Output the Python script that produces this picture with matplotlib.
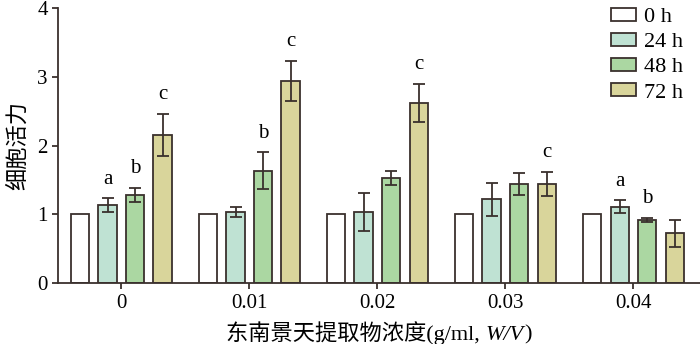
import numpy as np
import matplotlib
matplotlib.use("Agg")
import matplotlib.pyplot as plt
from matplotlib.offsetbox import TextArea, HPacker, AnchoredOffsetbox

plt.rcParams['font.family'] = ['Liberation Serif', 'Noto Sans CJK SC']

# données
concentrations = ["0", "0.01", "0.02", "0.03", "0.04"]
series = ["0 h", "24 h", "48 h", "72 h"]
valeurs = [
    [1, 1, 1, 1, 1],
    [1.13, 1.035, 1.035, 1.22, 1.11],
    [1.28, 1.63, 1.53, 1.44, 0.915],
    [2.15, 2.94, 2.62, 1.44, 0.72],
]
erreurs = [
    [0, 0, 0, 0, 0],
    [0.10, 0.07, 0.28, 0.24, 0.09],
    [0.10, 0.27, 0.10, 0.16, 0.03],
    [0.31, 0.29, 0.28, 0.18, 0.20],
]
lettres = [
    ["", "", "", "", ""],
    ["a", "", "", "", "a"],
    ["b", "b", "", "", "b"],
    ["c", "c", "c", "c", ""],
]
couleurs = ["#ffffff", "#bfe2d3", "#abd7a2", "#d9d59b"]
bord = "#3a302d"

fig = plt.figure(figsize=(7, 3.44), dpi=100)
ax = fig.add_axes([0.083, 0.178, 0.917, 0.798])

x = np.arange(len(concentrations))
largeur = 0.143
pas = 0.215
for i in range(len(series)):
    pos = x + (i - 1.5) * pas
    yerr = erreurs[i] if i > 0 else None
    ax.bar(pos, valeurs[i], largeur, color=couleurs[i], edgecolor=bord,
           linewidth=1.3, label=series[i], yerr=yerr,
           error_kw=dict(ecolor=bord, elinewidth=1.3, capsize=4, capthick=1.3))
    for j in range(len(concentrations)):
        if lettres[i][j]:
            haut = valeurs[i][j] + erreurs[i][j] + 0.14
            ax.text(pos[j], haut, lettres[i][j], ha='center', va='bottom', fontsize=15)

ax.set_xlim(-0.494, 4.52)
ax.set_ylim(0, 4)
ax.set_xticks(x)
ax.set_xticklabels(concentrations)
ax.set_yticks([0, 1, 2, 3, 4])
ax.spines['top'].set_visible(False)
ax.spines['right'].set_visible(False)
for s in ['left', 'bottom']:
    ax.spines[s].set_color(bord)
    ax.spines[s].set_linewidth(1.3)
ax.tick_params(colors=bord, labelcolor='black', labelsize=15, width=1.3, length=4)
ax.tick_params(axis='x', pad=4)

ax.set_ylabel("细胞活力", fontsize=16, labelpad=6)

# titre de l'axe x : morceaux séparés pour garder W/V en italique
morceaux = [
    TextArea("东南景天提取物浓度(g/ml, ", textprops=dict(fontsize=16)),
    TextArea("W/V", textprops=dict(fontsize=16, style='italic')),
    TextArea(")", textprops=dict(fontsize=16)),
]
boite = HPacker(children=morceaux, align="baseline", pad=0, sep=0)
titre_x = AnchoredOffsetbox(loc='upper center', child=boite, frameon=False,
                            bbox_to_anchor=(0.5, -0.138), bbox_transform=ax.transAxes,
                            borderpad=0, pad=0)
ax.add_artist(titre_x)

ax.legend(loc='upper right', bbox_to_anchor=(1.005, 1.075), frameon=False, fontsize=16,
          handlelength=1.15, handleheight=0.55, handletextpad=0.35, labelspacing=0.25)

plt.savefig("out.png", dpi=100)
